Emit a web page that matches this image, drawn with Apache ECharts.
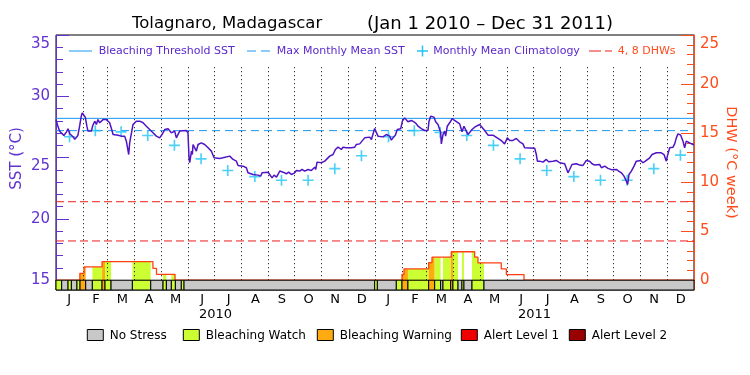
<!DOCTYPE html>
<html><head><meta charset="utf-8">
<script src="https://cdn.jsdelivr.net/npm/echarts@6/dist/echarts.min.js"></script>
<style>html,body{margin:0;padding:0;background:#fff}#c{width:750px;height:375px}</style>
</head><body><div id="c"></div>
<script>
// ---------------- DATA ----------------
const monthLabels = ['J','F','M','A','M','J','J','A','S','O','N','D','J','F','M','A','M','J','J','A','S','O','N','D'];
const monthDays = [31,28,31,30,31,30,31,31,30,31,30,31,31,28,31,30,31,30,31,31,30,31,30,31];
const yearLabels = ['2010','2011'];
const leftMajorTicks = [15,20,25,30,35];
const leftMinorTicks = [16,17,18,19,21,22,23,24,26,27,28,29,31,32,33,34];
const rightMajorTicks = [0,5,10,15,20,25];
const rightMinorTicks = [1,2,3,4,6,7,8,9,11,12,13,14,16,17,18,19,21,22,23,24];
const climatology = [26.7,27.2,27.1,26.8,26.0,24.9,23.95,23.45,23.15,23.15,24.1,25.15,
                     26.7,27.2,27.05,26.8,26.0,24.9,23.95,23.45,23.15,23.15,24.1,25.2];
const bleachingThreshold = 28.2;
const maxMonthlyMean = 27.2;
const dhwLevels = [4, 8];
// SST: [day since Jan 1 2010, degC]
const sst2010 = [[0,28.1],[2,27.6],[4.2,27.15],[6,27.0],[9,26.8],[12,27.1],[13.8,27.35],[15.7,26.95],[17.6,27.0],[19.5,26.7],[21.5,26.5],[23.3,26.34],[25,26.8],[27.1,27.6],[29,28.4],[30,28.65],[31.5,28.55],[33.5,28.3],[35.5,27.5],[36.6,27.16],[40.5,27.16],[42,27.6],[44.3,27.97],[46.2,27.7],[48,28.1],[50,27.84],[52,27.97],[53.8,28.1],[55.7,28.24],[57.6,28.1],[61.4,27.84],[63.3,27.4],[65.3,26.88],[71,26.83],[74.8,26.75],[76.7,26.6],[78.6,26.75],[80.5,26.34],[83.2,25.25],[84.3,26.2],[88.1,27.7],[91.9,27.97],[95.8,27.97],[99.6,27.84],[103.4,27.56],[107.2,27.29],[111,27.02],[114.8,26.75],[118.6,26.61],[121.3,26.88],[124.4,27.29],[128.2,27.35],[132,27.02],[135.8,27.16],[137.7,26.61],[141.5,27.16],[149,27.21],[151,27.02],[152.2,24.98],[153,24.58],[155,25.53],[156,25.25],[156.8,26.07],[158.7,26.2],[160.6,25.53],[162.5,26.07],[166.3,26.2],[170.1,26.07],[174,25.8],[177.8,25.53],[180.8,24.98],[187.3,24.93],[191,24.98],[193,25.12],[198.8,25.12],[202.6,24.85],[206.4,24.71],[208.3,24.36],[214,24.3],[217.8,24.17],[219.7,23.76],[225.5,23.62],[231.2,23.57],[234.2,23.49],[235.8,23.76],[242.6,23.81],[244.5,23.62],[247.2,23.35],[249.5,23.57],[252.2,23.41],[254,23.62],[256,23.9],[259.8,23.81],[263.6,23.68],[266.3,23.81],[269.3,23.62],[273.1,23.76],[275,23.95],[278.9,23.9],[281.5,24.03],[284.6,23.9],[288.4,24.03],[292.2,23.95],[296,24.22],[297.2,24.03],[298.7,24.63],[303.6,24.58],[307.5,24.71],[313.2,25.12],[317,25.25],[319.7,25.66],[322.7,25.85],[324.6,25.8],[326.5,25.66],[328.4,25.85],[332.3,25.8],[338,25.8],[341.8,25.85],[343.7,26.07],[347.5,26.12],[353.2,26.61],[359,26.67],[360.9,26.48],[364.6,27.37]];
const sst2011 = [[365.8,27.37],[368.4,26.75],[374,26.69],[378,26.88],[381.8,26.75],[383.7,26.42],[385.6,26.61],[388.3,26.83],[390.5,27.29],[394.4,27.35],[396.3,27.97],[398.9,28.24],[400.8,28.3],[402.7,27.92],[406.6,28.03],[409.6,27.92],[412.3,27.75],[414.2,27.56],[418,27.37],[421.8,27.21],[425.6,27.21],[426.8,27.97],[428.7,28.38],[432.5,28.3],[434.4,27.92],[437.1,27.7],[439,27.29],[440.1,27.07],[440.9,26.12],[442.8,26.88],[444.7,27.16],[445.8,26.75],[447.7,27.56],[450.4,27.84],[453.5,28.19],[456.1,28.03],[458,27.92],[461.9,27.75],[463.8,27.29],[464.5,27.1],[466.8,27.56],[469.5,27.16],[471.4,26.88],[476,27.29],[479,27.48],[484.7,27.7],[487.4,27.48],[490.5,27.21],[494.3,26.83],[500,26.83],[501.9,26.75],[505.7,26.56],[510.3,26.34],[513.3,26.12],[516.4,26.61],[519.1,26.4],[522.9,26.4],[526.7,26.56],[530.5,26.29],[534.3,26.12],[536.2,25.8],[547.7,25.76],[549.6,25.25],[550.8,24.71],[553.4,24.71],[557.2,24.63],[561,24.85],[563.7,24.66],[568.7,24.71],[572.5,24.77],[576.3,24.58],[582,24.5],[584,24.44],[585.8,23.76],[587.7,24.03],[590.4,24.44],[595.4,24.5],[599.2,24.39],[603,24.36],[606.8,24.77],[610.6,24.71],[613.3,24.5],[616.4,24.39],[622,24.44],[624,24.17],[627.8,24.3],[631.6,24.12],[636.2,24.0],[641.1,24.03],[643.8,23.9],[646.9,23.76],[649.9,23.49],[652.6,23.08],[654.1,22.81],[655.6,23.62],[658.3,23.9],[661.4,24.3],[664,24.71],[669,24.77],[671.7,24.58],[674.3,24.71],[679.3,24.98],[682,25.25],[686.9,25.39],[692.6,25.39],[695.7,25.25],[698.3,24.71],[699.5,25.12],[702.2,25.8],[706,25.85],[707.9,26.12],[709.8,26.61],[711.7,26.94],[714.8,26.83],[717.4,26.34],[719.3,25.8],[721.2,26.34],[725,26.2],[728.9,26.07],[730,26.07]];
// DHW step values: value holds from dhwDay[i] until the next day
const dhwDay   = [0, 27.3, 32.1, 52.7, 110.9, 115, 136.2, 395.9, 398.2, 426.4, 430.2, 452.3, 479, 482.8, 509.5, 515.3, 535.5, 730];
const dhwValue = [0, 0.7, 1.35, 1.9, 1.2, 0.6, 0, 0.6, 1.15, 1.8, 2.35, 2.9, 2.35, 1.77, 1.15, 0.57, 0, 0];
// Stress level segments (0 none, 1 watch, 2 warning, 3 alert 1, 4 alert 2)
const statusStart = [0, 6.5, 13.8, 17.6, 24, 27.5, 34, 41.6, 52.7, 56.1, 63, 87.4, 108.4, 122.5, 126.3, 132, 136.6, 143.4, 146.5,
                     364.6, 367.7, 389.4, 395.9, 402.7, 426.4, 433.3, 440.1, 442.8, 451.6, 454.2, 460, 464.5, 466.8, 476, 489.7];
const statusLevel = [1, 0, 1, 0, 1, 2, 0, 1, 2, 1, 0, 1, 0, 1, 0, 1, 0, 1, 0,
                     1, 0, 1, 2, 1, 2, 1, 0, 1, 2, 1, 0, 1, 0, 1, 0];
const statusNames = ['No Stress','Bleaching Watch','Bleaching Warning','Alert Level 1','Alert Level 2'];

// ---------------- STYLE ----------------
const FONT = 'DejaVu Sans';
const PURPLE = '#6233d0', SSTC = '#5014c4', LEGTXT = '#5a28cc';
const BLUE = '#1898f0', CYAN = '#20c4f4', ORANGE = '#ff4c1c', DHWC = '#ff4010', RED = '#ee1c1c';
const statusColors = ['#c8c8c8','#ccff33','#ffaa11','#ee0000','#990000'];
const TOTAL = 730;

// ---------------- derived ----------------
const monthStart = []; let acc = 0;
monthDays.forEach(d => { monthStart.push(acc); acc += d; });
const monthMid = monthDays.map((d, i) => monthStart[i] + d / 2);
const boundaries = monthStart.slice(1);
const segs = statusStart.map((s, i) => [s, i + 1 < statusStart.length ? statusStart[i + 1] : TOTAL, statusLevel[i]]);
function dhwAt(d) { let v = 0; for (let i = 0; i < dhwDay.length; i++) { if (dhwDay[i] <= d) v = dhwValue[i]; else break; } return v; }
function fillPoly(s, e) {
  const pts = [[s, 0], [s, dhwAt(s)]];
  for (let i = 0; i < dhwDay.length; i++) {
    const b = dhwDay[i];
    if (b > s && b < e) { pts.push([b, dhwAt(b - 1e-6)]); pts.push([b, dhwValue[i]]); }
  }
  pts.push([e, dhwAt(e - 1e-6)]); pts.push([e, 0]);
  return pts;
}
const plusPath = 'path://M4.25,0H5.75V10H4.25ZM0,4.25H10V5.75H0Z';

const chart = echarts.init(document.getElementById('c'), null, {renderer: 'canvas'});
const topLabel = (v) => (v === 35 || v === 25) ? '{t|' + v + '}' : String(v);

const legendY = 51;
const bottomLegX = [87.3, 183.3, 317.3, 461.3, 569.3];
const graphic = [
  {type:'line', shape:{x1:69,y1:legendY,x2:92,y2:legendY}, style:{stroke:BLUE,lineWidth:1}, z:50},
  {type:'text', x:98.7, y:legendY, style:{text:'Bleaching Threshold SST', fill:LEGTXT, font:'11px "'+FONT+'"', verticalAlign:'middle'}, z:50},
  {type:'line', shape:{x1:247,y1:legendY,x2:270,y2:legendY}, style:{stroke:BLUE,lineWidth:1,lineDash:[9,5]}, z:50},
  {type:'text', x:276.7, y:legendY, style:{text:'Max Monthly Mean SST', fill:LEGTXT, font:'11px "'+FONT+'"', verticalAlign:'middle'}, z:50},
  {type:'line', shape:{x1:417,y1:legendY,x2:428,y2:legendY}, style:{stroke:CYAN,lineWidth:1.5}, z:50},
  {type:'line', shape:{x1:422.5,y1:legendY-5.5,x2:422.5,y2:legendY+5.5}, style:{stroke:CYAN,lineWidth:1.5}, z:50},
  {type:'text', x:433.3, y:legendY, style:{text:'Monthly Mean Climatology', fill:LEGTXT, font:'11px "'+FONT+'"', verticalAlign:'middle'}, z:50},
  {type:'line', shape:{x1:589,y1:legendY,x2:612,y2:legendY}, style:{stroke:RED,lineWidth:1,lineDash:[12,4]}, z:50},
  {type:'text', x:617.7, y:legendY, style:{text:'4, 8 DHWs', fill:ORANGE, font:'11px "'+FONT+'"', verticalAlign:'middle'}, z:50}
];
statusNames.forEach((n, i) => {
  graphic.push({type:'rect', shape:{x:bottomLegX[i], y:329.5, width:16, height:11}, style:{fill:statusColors[i], stroke:'#000', lineWidth:1}});
  graphic.push({type:'text', x:bottomLegX[i] + 22.4, y:335.5, style:{text:n, fill:'#000', font:'12px "'+FONT+'"', verticalAlign:'middle'}});
});

const option = {
  animation: false,
  backgroundColor: '#fff',
  title: {
    left: 127, top: 10,
    text: '{a|Tolagnaro, Madagascar}{b|(Jan 1 2010 – Dec 31 2011)}',
    textStyle: {fontWeight:'normal', rich: {
      a: {width: 235, fontSize: 16.5, fontFamily: FONT, color: '#000', fontWeight:'normal'},
      b: {fontSize: 18, fontFamily: FONT, color: '#000', fontWeight:'normal'}
    }}
  },
  grid: {left: 56, right: 56, top: 35, bottom: 85, show: true, borderColor: '#000', borderWidth: 1, backgroundColor: 'transparent',
    containLabel: false, outerBoundsMode: 'none'},
  xAxis: [
    {type:'value', min:0, max:TOTAL, position:'bottom', axisLine:{show:true, lineStyle:{color:'#000'}}, axisTick:{show:false}, axisLabel:{show:false}, splitLine:{show:false}},
    {type:'category', data: monthLabels, position:'bottom', boundaryGap:true, axisLine:{show:false}, axisTick:{show:false}, splitLine:{show:false},
      axisLabel:{interval:0, margin:3, fontSize:13, fontFamily:FONT, color:'#000'}},
    {type:'category', data: yearLabels, position:'bottom', boundaryGap:true, axisLine:{show:false}, axisTick:{show:false}, splitLine:{show:false},
      axisLabel:{interval:0, margin:18, fontSize:13, fontFamily:FONT, color:'#000'}}
  ],
  yAxis: [
    {type:'value', min:14.2, max:35, position:'left', splitLine:{show:false},
      axisLine:{show:true, lineStyle:{color:PURPLE, width:1}},
      axisTick:{show:true, inside:true, length:13, customValues:leftMajorTicks, lineStyle:{color:PURPLE}},
      axisLabel:{customValues:leftMajorTicks, margin:6, fontSize:15, fontFamily:FONT, color:PURPLE, formatter: topLabel,
        rich:{t:{fontSize:15, fontFamily:FONT, color:PURPLE, padding:[18,0,0,0]}}},
      name:'SST (°C)', nameLocation:'middle', nameRotate:90, nameGap:31, nameMoveOverlap:false,
      nameTextStyle:{fontSize:15, fontFamily:FONT, color:PURPLE, padding:[0,0,0,8]}},
    {type:'value', min:-1, max:25, position:'right', splitLine:{show:false},
      axisLine:{show:true, lineStyle:{color:ORANGE, width:1}},
      axisTick:{show:true, inside:true, length:13, customValues:rightMajorTicks, lineStyle:{color:ORANGE}},
      axisLabel:{customValues:rightMajorTicks, margin:6, fontSize:15, fontFamily:FONT, color:ORANGE, formatter: topLabel,
        rich:{t:{fontSize:15, fontFamily:FONT, color:ORANGE, padding:[18,0,0,0]}}},
      name:'DHW (°C week)', nameLocation:'middle', nameRotate:-90, nameGap:29, nameMoveOverlap:false,
      nameTextStyle:{fontSize:14.5, fontFamily:FONT, color:ORANGE}},
    {type:'value', min:14.2, max:35, position:'left', splitLine:{show:false}, axisLine:{show:false}, axisLabel:{show:false},
      axisTick:{show:true, inside:true, length:7, customValues:leftMinorTicks, lineStyle:{color:PURPLE}}},
    {type:'value', min:-1, max:25, position:'right', splitLine:{show:false}, axisLine:{show:false}, axisLabel:{show:false},
      axisTick:{show:true, inside:true, length:7, customValues:rightMinorTicks, lineStyle:{color:ORANGE}}}
  ],
  graphic: graphic,
  series: [
    {type:'line', name:'grid', xAxisIndex:0, yAxisIndex:0, data:[], z:1, silent:true,
      markLine:{silent:true, symbol:'none', label:{show:false},
        lineStyle:{color:'#000', type:[1,3], width:1},
        data: boundaries.map(b => [{coord:[b, 15]}, {coord:[b, 32.6]}])}},
    {type:'line', name:'Bleaching Threshold SST', xAxisIndex:0, yAxisIndex:0, showSymbol:false, silent:true, z:3,
      data:[[0, bleachingThreshold],[TOTAL, bleachingThreshold]], lineStyle:{color:BLUE, width:1}},
    {type:'line', name:'Max Monthly Mean SST', xAxisIndex:0, yAxisIndex:0, showSymbol:false, silent:true, z:3,
      data:[[0, maxMonthlyMean],[TOTAL, maxMonthlyMean]], lineStyle:{color:BLUE, width:1, type:[8,5]}},
    ...dhwLevels.map(v => ({type:'line', name:'DHW ' + v, xAxisIndex:0, yAxisIndex:1, showSymbol:false, silent:true, z:3,
      data:[[0, v],[TOTAL, v]], lineStyle:{color:RED, width:1, type:[8,4]}})),
    {type:'custom', name:'fill', xAxisIndex:0, yAxisIndex:1, silent:true, z:4, data: segs,
      renderItem: (params, api) => {
        const s = api.value(0), e = api.value(1), lv = api.value(2);
        if (!lv) return null;
        const pts = fillPoly(s, e);
        if (pts.every(p => p[1] === 0)) return null;
        return {type:'polygon', shape:{points: pts.map(p => api.coord(p))}, style:{fill: statusColors[lv]}};
      }},
    {type:'line', name:'DHW', xAxisIndex:0, yAxisIndex:1, showSymbol:false, silent:true, z:5, step:'end',
      data: dhwDay.map((d, i) => [d, dhwValue[i]]), lineStyle:{color:DHWC, width:1.3}},
    {type:'custom', name:'status', xAxisIndex:0, yAxisIndex:1, silent:true, z:6, data: segs,
      renderItem: (params, api) => {
        const a = api.coord([api.value(0), 0]);
        const b = api.coord([api.value(1), -1]);
        return {type:'rect', shape:{x:a[0], y:a[1], width:b[0]-a[0], height:b[1]-a[1]},
          style:{fill: statusColors[api.value(2)], stroke:'#000', lineWidth:1}};
      }},
    {type:'scatter', name:'Monthly Mean Climatology', xAxisIndex:0, yAxisIndex:0, silent:true, z:7,
      symbol: plusPath, symbolSize: 11, data: climatology.map((v, i) => [monthMid[i], v]), itemStyle:{color:CYAN}},
    {type:'line', name:'SST', xAxisIndex:0, yAxisIndex:0, showSymbol:false, silent:true, z:8,
      data: sst2010.concat(sst2011), lineStyle:{color:SSTC, width:1.5}}
  ]
};
chart.setOption(option);
</script>
</body></html>
